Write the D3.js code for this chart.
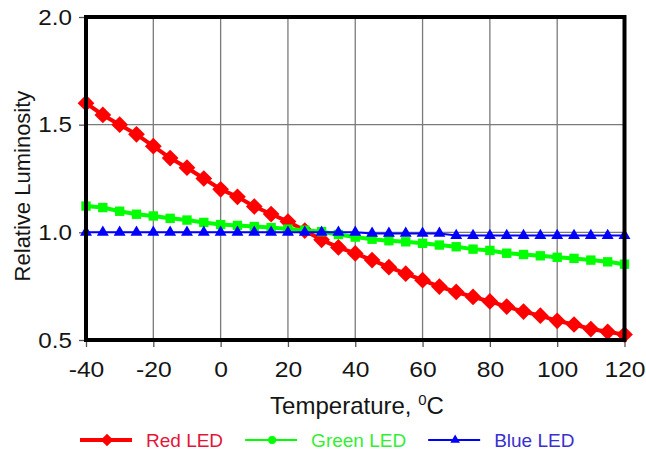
<!DOCTYPE html>
<head>
<meta charset="utf-8">
<script src="https://d3js.org/d3.v7.min.js"></script>
<style>
body {
margin: 0;
background: white;
}
text {
font-family: "Liberation Sans", Arial, sans-serif;
}
.grid line {
stroke: #7a7a7a;
stroke-width: 1.3;
}
</style>
</head>

<body>
<svg width=646 height=453></svg>

<script>
// temperature steps (every 5 C)
var temps = [-40, -35, -30, -25, -20, -15, -10, -5, 0, 5, 10, 15, 20, 25, 30, 35, 40,
  45, 50, 55, 60, 65, 70, 75, 80, 85, 90, 95, 100, 105, 110, 115, 120];

var redLed = [1.600, 1.545, 1.500, 1.455, 1.400, 1.345, 1.300, 1.250, 1.200, 1.165, 1.120,
  1.085, 1.050, 1.008, 0.965, 0.930, 0.902, 0.871, 0.838, 0.808, 0.778, 0.748, 0.723,
  0.700, 0.679, 0.655, 0.632, 0.613, 0.589, 0.572, 0.551, 0.538, 0.525];

var greenLed = [1.122, 1.115, 1.098, 1.084, 1.076, 1.065, 1.057, 1.046, 1.036, 1.032, 1.027,
  1.022, 1.015, 1.010, 1.003, 0.990, 0.978, 0.968, 0.961, 0.956, 0.949, 0.941, 0.933,
  0.922, 0.916, 0.903, 0.897, 0.891, 0.884, 0.879, 0.871, 0.863, 0.852];

var blueLed = [1.000, 1.000, 1.000, 1.000, 1.000, 1.000, 1.000, 1.000, 1.000, 1.000, 1.000,
  1.000, 1.000, 1.000, 1.000, 1.000, 1.000, 0.995, 0.995, 0.995, 0.995, 0.995, 0.985,
  0.985, 0.985, 0.985, 0.985, 0.985, 0.985, 0.985, 0.985, 0.985, 0.985];

var xTicks = [-40, -20, 0, 20, 40, 60, 80, 100, 120];
var yTicks = [0.5, 1.0, 1.5, 2.0];
var seriesNames = ["Red LED", "Green LED", "Blue LED"];

var svg = d3.select("svg");
var margin = {top: 17, right: 21.5, bottom: 113, left: 86};
var width = 646, height = 453;

var x = d3.scaleLinear()
  .domain([-40, 120])
  .range([margin.left, width - margin.right]);

var y = d3.scaleLinear()
  .domain([0.5, 2.0])
  .range([height - margin.bottom, margin.top]);

// stretch text a bit wider, the picture is squashed sideways
function stretch(sel, k) {
  sel.each(function() {
    var w = this.getComputedTextLength();
    d3.select(this).attr("textLength", w * k).attr("lengthAdjust", "spacingAndGlyphs");
  });
}

/* grid */
svg.append("g")
  .attr("class", "grid")
  .selectAll("line")
  .data(xTicks.slice(1, -1))
  .enter().append("line")
  .attr("x1", d => x(d)).attr("x2", d => x(d))
  .attr("y1", y(2.0)).attr("y2", y(0.5));

svg.append("g")
  .attr("class", "grid")
  .selectAll("line")
  .data(yTicks.slice(1, -1))
  .enter().append("line")
  .attr("x1", x(-40)).attr("x2", x(120))
  .attr("y1", d => y(d)).attr("y2", d => y(d));

/* axes */
var xAxis = svg.append("g")
  .attr("transform", "translate(0," + y(0.5) + ")")
  .call(d3.axisBottom(x).tickValues(xTicks).tickSize(7).tickPadding(14).tickFormat(d => String(d)));

var yAxis = svg.append("g")
  .attr("transform", "translate(" + x(-40) + ",0)")
  .call(d3.axisLeft(y).tickValues(yTicks).tickSize(7).tickPadding(7).tickFormat(d3.format(".1f")));

[xAxis, yAxis].forEach(function(a) {
  a.select(".domain").remove();
  a.selectAll("line").style("stroke", "#555").style("stroke-width", 1.3);
  a.selectAll("text").style("font-size", "22px").style("fill", "#151515")
    .style("font-family", '"Liberation Sans", Arial, sans-serif');
});
stretch(xAxis.selectAll("text"), 1.12);
stretch(yAxis.selectAll("text"), 1.1);

/* series */
var series = [
  {name: seriesNames[0], values: redLed, color: "#ff0000", width: 4,
   symbol: d3.symbolSquare, size: 140, rotate: 45},
  {name: seriesNames[1], values: greenLed, color: "#00ff00", width: 4,
   symbol: d3.symbolSquare, size: 88, rotate: 0},
  {name: seriesNames[2], values: blueLed, color: "#0000ff", width: 2,
   symbol: d3.symbolTriangle, size: 62, rotate: 0}
];

var line = d3.line()
  .x((d, i) => x(temps[i]))
  .y(d => y(d));

series.forEach(function(s) {
  var g = svg.append("g");
  g.append("path")
    .attr("d", line(s.values))
    .style("fill", "none")
    .style("stroke", s.color)
    .style("stroke-width", s.width);
  g.selectAll(".mark")
    .data(s.values)
    .enter().append("path")
    .attr("class", "mark")
    .attr("d", d3.symbol().type(s.symbol).size(s.size))
    .attr("transform", (d, i) => "translate(" + x(temps[i]) + "," + y(d) + ") rotate(" + s.rotate + ")")
    .style("fill", s.color);
});

/* frame */
svg.append("rect")
  .attr("x", x(-40)).attr("y", y(2.0))
  .attr("width", x(120) - x(-40))
  .attr("height", y(0.5) - y(2.0))
  .style("fill", "none")
  .style("stroke", "black")
  .style("stroke-width", 4);

/* axis titles */
var xt = svg.append("text")
  .attr("x", 357).attr("y", 414)
  .attr("text-anchor", "middle")
  .style("font-size", "24px")
  .style("fill", "#151515");
xt.append("tspan").text("Temperature, ");
xt.append("tspan").attr("dy", -9).style("font-size", "15px").text("0");
xt.append("tspan").attr("dy", 9).text("C");

var yt = svg.append("text")
  .attr("transform", "translate(30," + 186 + ") rotate(-90)")
  .attr("text-anchor", "middle")
  .style("font-size", "22px")
  .style("fill", "#151515")
  .text("Relative Luminosity");

/* legend */
var legendText = ["#e3163a", "#33ee33", "#3a2fd0"];
var legend = svg.append("g").attr("transform", "translate(0,440)");
var lx = 80;
series.forEach(function(s, i) {
  var g = legend.append("g").attr("transform", "translate(" + lx + ",0)");
  g.append("line")
    .attr("x1", 0).attr("x2", 52)
    .style("stroke", s.color)
    .style("stroke-width", i == 0 ? 4 : 2);
  var mk = i == 0 ? d3.symbol().type(d3.symbolSquare).size(80)
    : i == 1 ? d3.symbol().type(d3.symbolCircle).size(50)
    : d3.symbol().type(d3.symbolTriangle).size(40);
  g.append("path")
    .attr("d", mk)
    .attr("transform", "translate(27,0) rotate(" + (i == 0 ? 45 : 0) + ")")
    .style("fill", s.color);
  var t = g.append("text")
    .attr("x", 66).attr("y", 7)
    .style("font-size", "19px")
    .style("fill", legendText[i])
    .text(s.name);
  lx += 66 + t.node().getComputedTextLength() + 22;
});
</script>
</body>
